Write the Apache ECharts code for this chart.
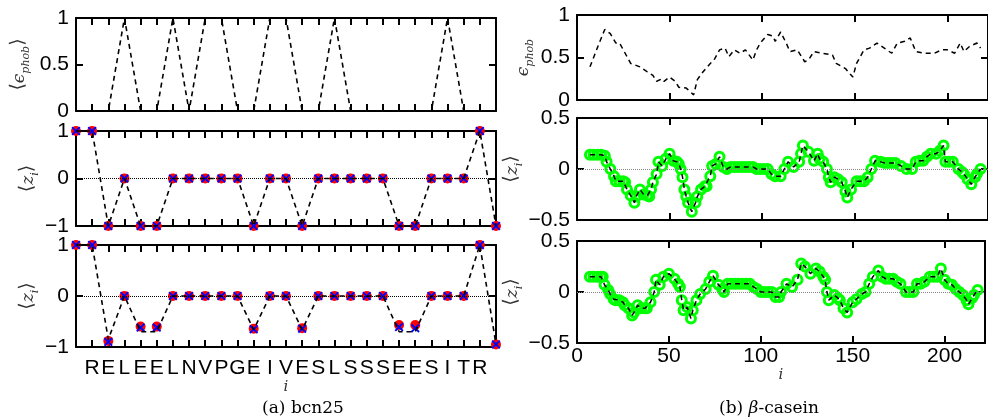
<!DOCTYPE html>
<html>
<head>
<meta charset="utf-8">
<script src="https://cdn.jsdelivr.net/npm/echarts@6/dist/echarts.min.js"></script>
<style>
  html, body { margin: 0; padding: 0; background: #fff; }
  #main { width: 988px; height: 420px; }
</style>
</head>
<body>
<div id="main"></div>
<script>
// ---- data: (a) bcn25, residue positions 0..26
var residues = ['', 'R', 'E', 'L', 'E', 'E', 'L', 'N', 'V', 'P', 'G', 'E', 'I', 'V',
  'E', 'S', 'L', 'S', 'S', 'S', 'E', 'E', 'S', 'I', 'T', 'R', ''];
var ephobA = [0, 0, 0, 1, 0, 0, 1, 0, 1, 1, 0, 0, 1, 1, 0, 0, 1, 0, 0, 0, 0, 0, 0, 1, 0, 0, 0];
var zMidA = [1, 1, -1, 0, -1, -1, 0, 0, 0, 0, 0, -1, 0, 0, -1, 0, 0, 0, 0, 0, -1, -1, 0, 0, 0, 1, -1];
var zBotRed = [1, 1, -0.88, 0, -0.6, -0.6, 0, 0, 0, 0, 0, -0.64, 0, 0, -0.63, 0, 0, 0, 0, 0, -0.57, -0.57, 0, 0, 0, 1, -0.95];
var zBotBlue = [1, 1, -0.9, 0, -0.62, -0.62, 0, 0, 0, 0, 0, -0.65, 0, 0, -0.64, 0, 0, 0, 0, 0, -0.61, -0.63, 0, 0, 0, 1, -0.95];
var zBotLine = [1, 1, -0.85, 0, -0.7, -0.7, 0, 0, 0, 0, 0, -0.66, 0, 0, -0.66, 0, 0, 0, 0, 0, -0.7, -0.7, 0, 0, 0, 1, -0.95];

// ---- data: (b) beta-casein, [residue, value]
var ephobB = [[7,0.39],[12,0.67],[15,0.83],[18,0.78],[21,0.67],[23,0.67],[26,0.55],[29,0.43],[34,0.39],[38,0.33],
  [41,0.29],[43,0.22],[46,0.25],[47,0.22],[50,0.27],[53,0.22],[55,0.15],[59,0.14],[63,0.06],[65,0.24],[68,0.33],
  [72,0.43],[74,0.47],[77,0.59],[80,0.61],[82,0.51],[85,0.59],[88,0.55],[91,0.59],[95,0.47],[97,0.59],[99,0.67],
  [103,0.77],[106,0.75],[107,0.69],[110,0.8],[113,0.67],[115,0.57],[119,0.59],[123,0.45],[125,0.47],[128,0.57],
  [132,0.55],[138,0.53],[140,0.43],[145,0.37],[149,0.27],[151,0.43],[155,0.59],[158,0.61],[162,0.67],[166,0.61],
  [170,0.55],[173,0.67],[177,0.69],[180,0.73],[183,0.57],[188,0.55],[193,0.55],[197,0.59],[200,0.59],[204,0.55],
  [207,0.67],[209,0.57],[212,0.63],[216,0.67],[218,0.61]];
var zMidB = [[7,0.14],[9,0.14],[11,0.14],[13,0.14],[15,0.13],[16,0.07],[18,0],[20,-0.07],[21,-0.12],[23,-0.12],
  [25,-0.12],[26,-0.13],[27,-0.2],[29,-0.26],[31,-0.33],[32,-0.27],[34,-0.2],[36,-0.25],[38,-0.26],[39,-0.27],
  [40,-0.2],[41,-0.13],[43,-0.05],[44,0.07],[46,0.03],[48,0.1],[50,0.15],[52,0.08],[54,0.07],[55,0.05],[56,0],
  [57,-0.08],[58,-0.2],[59,-0.27],[60,-0.33],[62,-0.42],[64,-0.33],[65,-0.27],[67,-0.2],[69,-0.17],[70,-0.17],
  [72,-0.07],[73,0.03],[75,0.05],[77,0.12],[79,0.02],[81,0],[83,0.02],[85,0.02],[87,0.02],[89,0.02],[91,0.02],
  [93,0.02],[95,0.02],[97,0],[99,0],[101,0],[103,0],[105,-0.05],[107,-0.07],[110,-0.07],[112,0],[114,0.07],
  [117,0.02],[120,0.07],[121,0.15],[122,0.23],[125,0.17],[128,0.08],[130,0.15],[131,0.1],[133,0.07],[135,0],
  [136,-0.08],[137,-0.13],[139,-0.08],[141,-0.1],[143,-0.13],[145,-0.22],[146,-0.28],[148,-0.2],[151,-0.12],
  [153,-0.12],[155,-0.12],[157,-0.08],[159,0],[161,0.08],[164,0.07],[166,0.06],[168,0.06],[170,0.06],[172,0.06],
  [175,0.03],[178,0],[181,0],[183,0.07],[185,0.08],[187,0.08],[189,0.12],[191,0.15],[194,0.15],[196,0.18],
  [198,0.23],[199,0.07],[201,0.07],[203,0.07],[206,0],[208,-0.03],[209,-0.05],[211,-0.1],[213,-0.15],[215,-0.08],
  [216,-0.05],[218,0]];
var zBotB = [[7,0.15],[9,0.15],[11,0.15],[13,0.15],[14,0.15],[15,0.07],[17,0.02],[18,-0.02],[20,-0.07],[21,-0.08],
  [23,-0.08],[25,-0.1],[26,-0.13],[28,-0.16],[30,-0.23],[31,-0.2],[33,-0.13],[35,-0.16],[37,-0.16],[38,-0.16],
  [40,-0.1],[42,0],[43,0.12],[45,0.07],[47,0.15],[50,0.18],[53,0.13],[55,0.08],[56,0.05],[57,-0.08],[58,-0.18],
  [60,-0.15],[62,-0.26],[63,-0.18],[65,-0.08],[67,-0.02],[70,0.03],[72,0.1],[74,0.16],[77,0.07],[79,0.03],[80,0],
  [82,0.08],[84,0.08],[86,0.08],[88,0.08],[90,0.08],[92,0.08],[94,0.08],[96,0.05],[98,0.03],[100,0],[102,0],
  [104,0],[106,0],[108,-0.05],[110,-0.05],[111,0],[114,0.08],[117,0.05],[120,0.12],[122,0.28],[124,0.25],
  [127,0.18],[130,0.23],[132,0.2],[134,0.15],[135,0.12],[136,0],[137,-0.08],[140,-0.03],[142,-0.06],[143,-0.08],
  [145,-0.16],[147,-0.2],[150,-0.1],[152,-0.07],[155,-0.02],[157,0],[159,0.08],[161,0.15],[164,0.21],[166,0.15],
  [168,0.13],[170,0.13],[172,0.13],[174,0.1],[176,0.08],[179,0],[181,0],[183,0],[185,0.08],[187,0.08],[189,0.1],
  [192,0.15],[194,0.15],[196,0.15],[198,0.23],[200,0.12],[202,0.08],[204,0.07],[206,0.03],[208,0],[210,-0.03],
  [212,-0.08],[213,-0.12],[215,-0.06],[216,-0.03],[218,0.02]];

var myChart = echarts.init(document.getElementById('main'));

function pairs(arr) {
  return arr.map(function(v, i) { return [i, v]; });
}
function minus(v) {
  return String(v).replace('-', '\u2212');
}

var labelFont = 'Liberation Sans';
var serif = 'DejaVu Serif';
var nameRich = {
  b: { fontFamily: serif, fontSize: 19, color: '#333', verticalAlign: 'top', lineHeight: 24 },
  m: { fontFamily: serif, fontStyle: 'italic', fontSize: 17, color: '#333', verticalAlign: 'top', lineHeight: 22, padding: [2, 0, 0, 0] },
  s: { fontFamily: serif, fontStyle: 'italic', fontSize: 11, color: '#333', verticalAlign: 'top', lineHeight: 12, padding: [12, 0, 0, 0] }
};
var zName = '{b|\u27E8}{m|z}{s|i}{b|\u27E9}';
var ephobName = '{b|\u27E8}{m|\u03F5}{s|phob}{b|\u27E9}';

// grid boxes: left panel (a) then right panel (b)
var grids = [
  { left: 76, top: 18, width: 420, height: 93 },
  { left: 76, top: 131, width: 420, height: 95 },
  { left: 76, top: 245, width: 420, height: 102 },
  { left: 577, top: 15, width: 413, height: 85 },
  { left: 577, top: 118, width: 413, height: 102 },
  { left: 577, top: 241, width: 413, height: 102 }
];
var yRanges = [[0, 1, 0.5], [-1, 1, 1], [-1, 1, 1], [0, 1, 0.5], [-0.5, 0.5, 0.5], [-0.5, 0.5, 0.5]];
var yNames = [ephobName, zName, zName, '{m|\u03F5}{s|phob}', zName, zName];
var yGaps = [43, 34, 34, 42, 37, 35];

function mkTick() {
  return { show: true, inside: true, length: 7, lineStyle: { color: '#000', width: 2 } };
}
function mkLine() {
  return { show: true, onZero: false, lineStyle: { color: '#000', width: 2 } };
}

var xAxes = [], yAxes = [];
grids.forEach(function(g, k) {
  var left = k < 3;
  var bottomRow = k === 2 || k === 5;
  var xMax = left ? 26 : 222, xInt = left ? 1 : 50;
  var xb = {
    type: 'value', gridIndex: k, position: 'bottom',
    min: 0, max: xMax, interval: xInt,
    axisLine: mkLine(), axisTick: mkTick(), splitLine: { show: false },
    axisLabel: { show: bottomRow, color: '#000', fontFamily: labelFont, fontSize: 21, margin: left ? 11 : 3,
      formatter: left ? function(v) { return residues[v] || ''; }
                      : function(v) { return v % 50 === 0 ? String(v) : ''; } }
  };
  if (bottomRow) {
    xb.name = 'i';
    xb.nameLocation = 'middle';
    xb.nameGap = left ? 30 : 22;
    xb.nameTextStyle = { fontFamily: serif, fontStyle: 'italic', fontSize: 15, color: '#333' };
  }
  xAxes.push(xb);
  xAxes.push({
    type: 'value', gridIndex: k, position: 'top',
    min: 0, max: xMax, interval: xInt,
    axisLine: mkLine(), axisTick: mkTick(), splitLine: { show: false },
    axisLabel: { show: false }
  });

  var r = yRanges[k];
  yAxes.push({
    type: 'value', gridIndex: k, position: 'left', min: r[0], max: r[1], interval: r[2],
    axisLine: mkLine(), axisTick: mkTick(), splitLine: { show: false },
    name: yNames[k], nameLocation: 'middle', nameGap: yGaps[k],
    nameTextStyle: { rich: nameRich },
    axisLabel: { color: '#000', fontFamily: labelFont, fontSize: 21, margin: 7, formatter: minus }
  });
  yAxes.push({
    type: 'value', gridIndex: k, position: 'right', min: r[0], max: r[1], interval: r[2],
    axisLine: mkLine(), axisTick: mkTick(), splitLine: { show: false },
    axisLabel: { show: false }
  });
});

function zeroLine(color) {
  return {
    silent: true, symbol: ['none', 'none'], label: { show: false },
    lineStyle: { type: 'dotted', color: color, width: 1 },
    data: [{ yAxis: 0 }]
  };
}
function dashed(k, data, mark, w) {
  var s = {
    type: 'line', xAxisIndex: 2 * k, yAxisIndex: 2 * k, data: data,
    showSymbol: false, z: 5, clip: false,
    lineStyle: { color: '#000', width: w || 1.6, type: [5, 4] }
  };
  if (mark) s.markLine = zeroLine(mark);
  return s;
}
var crossPath = 'path://M0,1.5L1.5,0L5,3.5L8.5,0L10,1.5L6.5,5L10,8.5L8.5,10L5,6.5L1.5,10L0,8.5L3.5,5Z';
function redDots(k, data) {
  return { type: 'scatter', xAxisIndex: 2 * k, yAxisIndex: 2 * k, data: data, clip: false, z: 3,
    symbol: 'circle', symbolSize: 10, itemStyle: { color: '#ff0000', opacity: 1 } };
}
function blueX(k, data) {
  return { type: 'scatter', xAxisIndex: 2 * k, yAxisIndex: 2 * k, data: data, clip: false, z: 4,
    symbol: crossPath, symbolSize: 9, itemStyle: { color: '#0000ff', opacity: 1 } };
}
function greenRings(k, data) {
  return { type: 'scatter', xAxisIndex: 2 * k, yAxisIndex: 2 * k, data: data, clip: false, z: 3,
    symbol: 'circle', symbolSize: 9,
    itemStyle: { color: 'rgba(0,0,0,0)', borderColor: '#00ff00', borderWidth: 3, opacity: 1 } };
}

var option = {
  backgroundColor: '#fff',
  animation: false,
  grid: grids,
  xAxis: xAxes,
  yAxis: yAxes,
  series: [
    dashed(0, pairs(ephobA)),
    redDots(1, pairs(zMidA)), blueX(1, pairs(zMidA)), dashed(1, pairs(zMidA), '#000'),
    redDots(2, pairs(zBotRed)), blueX(2, pairs(zBotBlue)), dashed(2, pairs(zBotLine), '#000'),
    dashed(3, ephobB, null, 1.5),
    greenRings(4, zMidB), dashed(4, zMidB, '#888', 1.5),
    greenRings(5, zBotB), dashed(5, zBotB, '#888', 1.5)
  ],
  graphic: [
    { type: 'text', x: 303, y: 409,
      style: { text: '(a) bcn25', font: '17px "DejaVu Serif"', fill: '#000', align: 'center', verticalAlign: 'middle' } },
    { type: 'text', x: 769, y: 409,
      style: { text: '(b) {g|\u03B2}-casein', font: '17px "DejaVu Serif"', fill: '#000', align: 'center', verticalAlign: 'middle',
        rich: { g: { font: 'italic 17px "DejaVu Serif"', fill: '#000' } } } }
  ]
};
myChart.setOption(option);
</script>
</body>
</html>
